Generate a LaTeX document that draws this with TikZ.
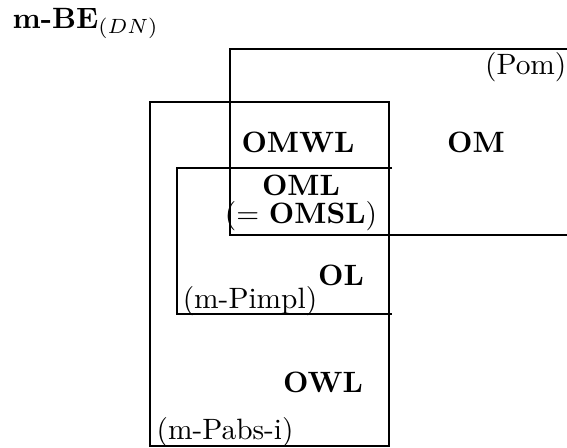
\documentclass[tikz,border=0pt]{standalone}
\usepackage{amsmath}
\usepackage{tikz}
\usetikzlibrary{positioning}

\tikzset{
  setname/.style={anchor=base, inner sep=0pt, font=\bfseries},
  settag/.style={anchor=base, inner sep=0pt}
}

\begin{document}
\begin{tikzpicture}[x=0.34pt, y=-0.34pt]
  \useasboundingbox (0,0) rectangle (567,448);
  % title
  \node[settag, anchor=base west] (title) at (12,28) {\textbf{m-BE}$_{(DN)}$};
  % regions
  \draw (567,49) -- (230,49) -- (230,235) -- (567,235);
  \draw (150,102) rectangle (389,446);
  \draw (392,168) -- (177,168) -- (177,314) -- (392,314);
  % region tags
  \node[settag, anchor=base east] (pom) at (567,74) {(Pom)};
  \node[settag] (pimpl) at (250,308) {(m-Pimpl)};
  \node[settag, anchor=base west] (pabs) at (156,439) {(m-Pabs-i)};
  % set names
  \node[setname] (om) at (476,152) {OM};
  \node[setname] (omwl) at (298,152) {OMWL};
  \node[setname] (oml) at (301,195) {OML};
  \node[settag] (omsl) at (301,223) {$(=$ \textbf{OMSL}$)$};
  \node[setname] (ol) at (341,285) {OL};
  \node[setname] (owl) at (323,392) {OWL};
\end{tikzpicture}
\end{document}
